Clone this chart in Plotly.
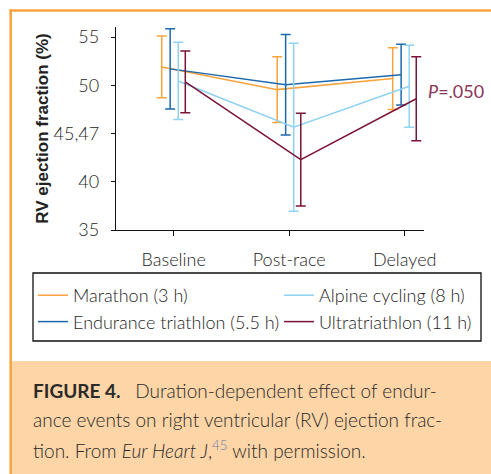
import plotly.graph_objects as go

# ---------------- data ----------------
categories = ["Baseline", "Post-race", "Delayed"]

marathon_name = "Marathon (3 h)"
marathon_mean = [51.9, 49.55, 50.7]
marathon_sd = [3.2, 3.4, 3.2]

endurance_name = "Endurance triathlon (5.5 h)"
endurance_mean = [51.7, 50.05, 51.1]
endurance_sd = [4.15, 5.2, 3.15]

alpine_name = "Alpine cycling (8 h)"
alpine_mean = [50.45, 45.65, 49.9]
alpine_sd = [4.0, 8.7, 4.25]

ultra_name = "Ultratriathlon (11 h)"
ultra_mean = [50.35, 42.3, 48.6]
ultra_sd = [3.2, 4.8, 4.35]

y_tick_values = [35, 40, 45, 50, 55]
y_tick_labels = ["35", "40", "45,47", "50", "55"]

p_label = "<i>P</i>=.050"
p_label_y = 49.4

# ---------------- layout geometry ----------------
W, H = 491, 474
L, R, T, B = 116, 67, 27, 244
PW, PH = W - L - R, H - T - B
BOTTOM = H - B


def px2x(px):
    return (px - L) / PW


def px2y(py):
    return (BOTTOM - py) / PH


ORANGE = "#f9a33c"
DBLUE = "#1d69ad"
LBLUE = "#8fd2f1"
MAROON = "#7a1437"
TXT = "#1e1e1e"
FONT = "Lato"

series = [
    (marathon_name, marathon_mean, marathon_sd, ORANGE, -0.104, "legend", 1),
    (endurance_name, endurance_mean, endurance_sd, DBLUE, -0.031, "legend", 2),
    (alpine_name, alpine_mean, alpine_sd, LBLUE, 0.039, "legend2", 1),
    (ultra_name, ultra_mean, ultra_sd, MAROON, 0.100, "legend2", 2),
]

fig = go.Figure()
for name, mean, sd, color, off, leg, rank in series:
    fig.add_trace(go.Scatter(
        x=[i + off for i in range(len(categories))],
        y=mean,
        name=name,
        mode="lines",
        line=dict(color=color, width=1.5),
        error_y=dict(type="data", array=sd, visible=True, color=color,
                     thickness=1.5, width=5),
        legend=leg,
        legendrank=rank,
    ))

legend_common = dict(
    orientation="v", xanchor="left", yanchor="top",
    font=dict(family=FONT, size=18, color=TXT, weight=300),
    bgcolor="rgba(0,0,0,0)", borderwidth=0, itemwidth=30,
    tracegroupgap=0,
)

shapes = [
    # caption background
    dict(type="rect", xref="paper", yref="paper",
         x0=px2x(12), x1=px2x(W + 2), y0=px2y(H + 2), y1=px2y(361),
         fillcolor="#fdd5a6", line=dict(width=0), layer="below"),
    # orange frame
    dict(type="line", xref="paper", yref="paper",
         x0=px2x(9.5), x1=px2x(W + 2), y0=px2y(10.5), y1=px2y(10.5),
         line=dict(color=ORANGE, width=2.5)),
    dict(type="line", xref="paper", yref="paper",
         x0=px2x(10.7), x1=px2x(10.7), y0=px2y(9.5), y1=px2y(H + 2),
         line=dict(color=ORANGE, width=2.5)),
    # legend box
    dict(type="rect", xref="paper", yref="paper",
         x0=px2x(33), x1=px2x(481), y0=px2y(341), y1=px2y(273),
         line=dict(color="#111111", width=1.3), fillcolor="rgba(0,0,0,0)"),
]

cap_font = dict(family=FONT, size=19, color="#2a2a2a", weight=300)
annotations = [
    dict(text=p_label, xref="paper", yref="y", x=px2x(426), y=p_label_y,
         xanchor="left", yanchor="middle", showarrow=False,
         font=dict(family=FONT, size=18, color="#8a3559", weight=400)),
    dict(text="<b>FIGURE 4.</b>\u2002 Duration-dependent effect of endur-",
         xref="paper", yref="paper", x=px2x(31), y=px2y(390),
         xanchor="left", yanchor="middle", showarrow=False, font=cap_font),
    dict(text="ance events on right ventricular (RV) ejection frac-",
         xref="paper", yref="paper", x=px2x(31), y=px2y(419.5),
         xanchor="left", yanchor="middle", showarrow=False, font=cap_font),
    dict(text="tion. From <i>Eur Heart J</i>,<span style='color:#6b7ba8'><sup>45</sup></span> with permission.",
         xref="paper", yref="paper", x=px2x(31), y=px2y(449),
         xanchor="left", yanchor="middle", showarrow=False, font=cap_font),
]

fig.update_layout(
    width=W, height=H,
    margin=dict(l=L, r=R, t=T, b=B, autoexpand=False),
    paper_bgcolor="white", plot_bgcolor="white",
    showlegend=True,
    legend=dict(x=px2x(33), y=px2y(277), **legend_common),
    legend2=dict(x=px2x(279), y=px2y(277), **legend_common),
    shapes=shapes,
    annotations=annotations,
    xaxis=dict(
        range=[-0.5, 2.167], tickmode="array",
        tickvals=list(range(len(categories))), ticktext=categories,
        showgrid=False, zeroline=False, showline=True,
        linecolor="#111111", linewidth=1.3,
        ticks="outside", ticklen=5, tickcolor="#111111", tickwidth=1.2,
        ticklabelstandoff=8,
        tickfont=dict(family=FONT, size=18, color=TXT, weight=300),
    ),
    yaxis=dict(
        range=[35, 56.04], tickmode="array",
        tickvals=y_tick_values, ticktext=y_tick_labels,
        showgrid=False, zeroline=False, showline=True,
        linecolor="#111111", linewidth=1.3,
        ticks="outside", ticklen=4, tickcolor="#111111", tickwidth=1.2,
        ticklabelstandoff=8,
        tickfont=dict(family=FONT, size=18, color=TXT, weight=300),
        title=dict(text="<b>RV ejection fraction (%)</b>", standoff=0,
                   font=dict(family="Liberation Sans", size=17, color="#222222")),
    ),
)

fig.write_html(
    "out.html",
    config={"displayModeBar": False},
    post_script="document.body.style.margin='0';document.body.style.overflow='hidden';",
)
